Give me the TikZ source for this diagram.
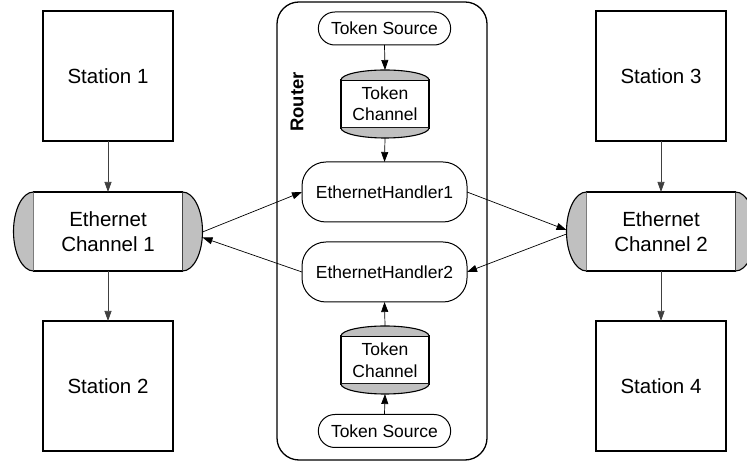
\documentclass[tikz,border=0pt]{standalone}
\usepackage{fontspec}
\setmainfont{Liberation Sans}
\usetikzlibrary{arrows.meta}
\usetikzlibrary{shapes.misc}

\definecolor{capgray}{RGB}{192,192,192}

\begin{document}
\begin{tikzpicture}[x=1pt,y=1pt,
  every node/.style={outer sep=0pt},
  station/.style={draw,line width=1.2pt,minimum width=130pt,minimum height=130pt,font=\fontsize{20.5}{25}\selectfont},
  chan/.style={draw,fill=white,line width=1.2pt,minimum width=149pt,minimum height=79pt,align=center,font=\fontsize{20.5}{25}\selectfont},
  tokchan/.style={draw,fill=white,line width=1.1pt,minimum width=88pt,minimum height=48pt,align=center,font=\fontsize{17.5}{21.5}\selectfont},
  handler/.style={draw,line width=1pt,rounded corners=24pt,minimum width=165pt,minimum height=60pt,font=\fontsize{17.5}{21}\selectfont},
  source/.style={draw,line width=1pt,rounded rectangle,minimum width=139pt,minimum height=33pt,font=\fontsize{17.5}{21}\selectfont},
  endcap/.style={draw,fill=capgray,line width=1.1pt},
  link/.style={-{Triangle[length=10pt,width=7pt]},line width=0.7pt}]

\useasboundingbox (0,0) rectangle (747,463);

% router frame and its label
\node[draw,line width=1.3pt,rounded corners=22pt,minimum width=210pt,minimum height=458pt] (router) at (382,232) {};
\node[rotate=90,font=\fontsize{18.5}{22}\selectfont\bfseries] (routerlbl) at (297,361) {Router};

% stations
\node[station] (st1) at (108,387) {Station 1};
\node[station] (st2) at (108,77) {Station 2};
\node[station] (st3) at (661,387) {Station 3};
\node[station] (st4) at (661,77) {Station 4};

% ethernet channels
\node[chan] (ch1) at (108,231.5) {Ethernet\\Channel 1};
\node[chan] (ch2) at (661,231.5) {Ethernet\\Channel 2};
\foreach \c in {ch1,ch2}{
  \draw[endcap] (\c.north west) arc (90:270:20 and 39.5);
  \draw[endcap] (\c.south east) arc (-90:90:20 and 39.5);
}
\coordinate (ch1r) at ([xshift=20pt]ch1.east);
\coordinate (ch2l) at ([xshift=-20pt]ch2.west);

% inside the router
\node[source] (ts1) at (384.5,434.5) {Token Source};
\node[tokchan] (tc1) at (385,359) {Token\\Channel};
\node[handler] (eh1) at (384.5,271) {EthernetHandler1};
\node[handler] (eh2) at (384.5,191) {EthernetHandler2};
\node[tokchan] (tc2) at (385,103) {Token\\Channel};
\node[source] (ts2) at (384.5,32) {Token Source};
\foreach \c in {tc1,tc2}{
  \draw[endcap] (\c.north west) arc (180:0:44 and 10);
  \draw[endcap] (\c.south west) arc (180:360:44 and 10);
}
\coordinate (tc1top) at ([yshift=10pt]tc1.north);
\coordinate (tc1bot) at ([yshift=-10pt]tc1.south);
\coordinate (tc2top) at ([yshift=10pt]tc2.north);
\coordinate (tc2bot) at ([yshift=-10pt]tc2.south);

% connectors
\draw[link,black!75] (st1.south) -- (ch1.north);
\draw[link,black!75] (ch1.south) -- (st2.north);
\draw[link,black!75] (st3.south) -- (ch2.north);
\draw[link,black!75] (ch2.south) -- (st4.north);

\draw[link] (ts1.south) -- (tc1top);
\draw[link] (tc1bot) -- (eh1.north);
\draw[link] (ts2.north) -- (tc2bot);
\draw[link] (tc2top) -- (eh2.south);

\draw[link] ([yshift=-0.5pt]ch1r) -- (eh1.west);
\draw[link] (eh2.west) -- ([yshift=-6pt]ch1r);
\draw[link] (eh1.east) -- ([yshift=1.5pt]ch2l);
\draw[link] ([yshift=-2.5pt]ch2l) -- (eh2.east);

\end{tikzpicture}
\end{document}
